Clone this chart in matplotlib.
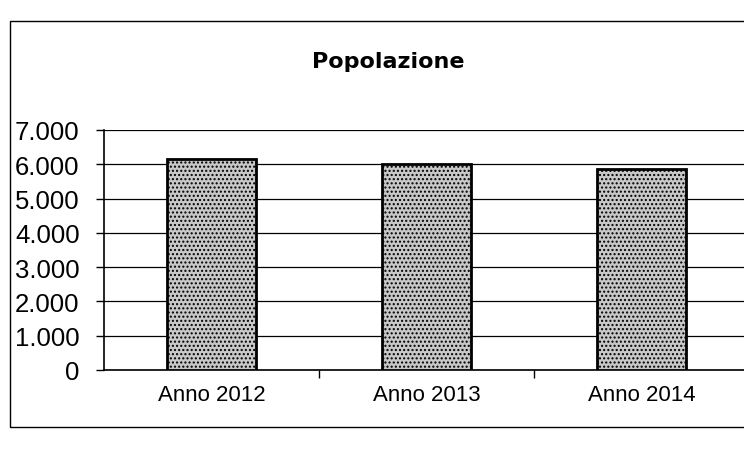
import matplotlib.pyplot as plt
from matplotlib.patches import Rectangle
from matplotlib.ticker import FuncFormatter, MultipleLocator

# ── Data ──────────────────────────────────────────────────────────────────────

categories = ["Anno 2012", "Anno 2013", "Anno 2014"]
popolazione = [6150, 6000, 5860]
title = "Popolazione"

# ── Plot ──────────────────────────────────────────────────────────────────────

fig = plt.figure(figsize=(7.44, 4.56), dpi=100)
fig.patch.set_facecolor("white")

# outer chart frame
fig.patches.append(Rectangle((10 / 744, 1 - 428 / 456), 740 / 744, 406 / 456,
                             transform=fig.transFigure, fill=False,
                             edgecolor="black", linewidth=1.0))

ax = fig.add_axes([104 / 744, 85 / 456, 645 / 744, 240 / 456])

positions = [i + 0.5 for i in range(len(categories))]
ax.bar(positions, popolazione, width=0.41, facecolor="#c8c8c8",
       edgecolor="black", linewidth=2.0, hatch="....", zorder=3)

ax.set_xlim(0, len(categories))
ax.set_ylim(0, 7000)
ax.yaxis.set_major_locator(MultipleLocator(1000))
ax.yaxis.set_major_formatter(
    FuncFormatter(lambda v, _: f"{int(v):,}".replace(",", ".")))

ax.set_xticks(range(1, len(categories)))
ax.set_xticklabels([])
ax.set_xticks(positions, minor=True)
ax.set_xticklabels(categories, minor=True, fontsize=16,
                   family="Liberation Sans")
ax.tick_params(axis="x", which="major", direction="out", length=6, width=1)
ax.tick_params(axis="x", which="minor", length=0, pad=10)
ax.tick_params(axis="y", direction="out", length=6, width=1, pad=11.5,
               labelsize=18.5)
for lbl in ax.get_yticklabels():
    lbl.set_family("Liberation Sans")

ax.yaxis.grid(True, color="black", linewidth=0.9, zorder=0)
ax.get_ygridlines()[-1].set_linestyle((0, (4, 2)))
ax.get_ygridlines()[-1].set_color("#555555")
ax.set_axisbelow(True)
for side in ["top", "right"]:
    ax.spines[side].set_visible(False)
ax.spines["left"].set_linewidth(1.2)
ax.spines["bottom"].set_linewidth(1.2)

fig.text(388 / 744, 1 - 68 / 456, title, ha="center", va="baseline",
         fontsize=16, fontweight="bold", family="DejaVu Sans")

plt.savefig("out.png", dpi=100, facecolor="white")
